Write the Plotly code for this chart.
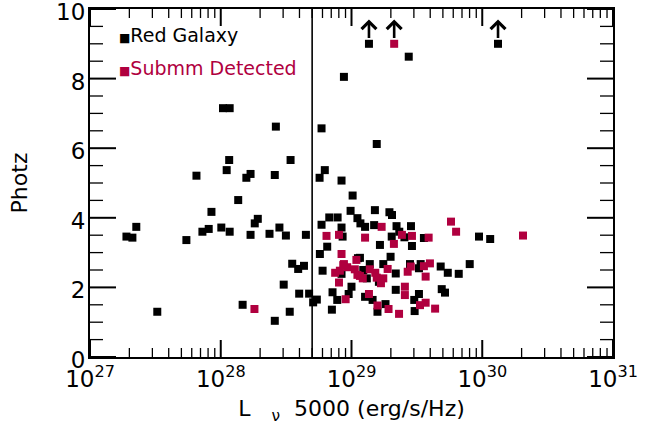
import numpy as np
import plotly.graph_objects as go

# ---- data ----
red_x = [8.75e28, 1.04e28, 1.17e28, 2.64e28, 5.90e28, 1.16e28, 3.42e28, 6.52e27, 1.11e28, 1.57e28,
         1.69e28, 2.59e28, 5.70e28, 6.25e28, 8.39e28, 1.36e28, 8.49e27, 1.02e29, 9.84e28, 1.90e27,
         2.11e27, 2.26e27, 5.46e27, 7.24e27, 8.09e27, 1.01e28, 1.17e28, 1.69e28, 1.82e28, 1.92e28,
         2.36e28, 2.81e28, 3.15e28, 4.48e28, 5.90e28, 6.76e28, 7.83e28, 8.39e28, 8.55e28, 1.11e29,
         6.52e28, 5.73e28, 3.52e28, 3.91e28, 4.33e28, 6.01e28, 3.03e28, 3.98e28, 4.74e28, 5.09e28,
         5.43e28, 7.16e28, 7.78e28, 9.51e28, 1.00e29, 7.08e28, 1.47e28, 3.27e27, 2.59e28, 3.37e28,
         8.39e28, 1.12e29, 1.51e29, 1.95e29, 2.04e29, 1.17e29, 1.27e29, 1.49e29, 2.21e29, 2.85e29,
         2.32e29, 2.03e29, 2.54e29, 3.58e29, 1.65e29, 2.90e29, 1.16e29, 1.99e29, 1.38e29, 1.75e29,
         2.80e29, 3.38e29, 4.81e29, 8.02e29, 1.23e29, 2.18e29, 3.28e29, 5.45e29, 6.61e29, 1.31e29,
         1.62e29, 2.18e29, 4.90e29, 5.19e29, 1.27e29, 1.45e29, 3.28e29, 3.02e29, 1.58e29, 1.82e29,
         3.04e29, 9.44e29, 1.15e30, 2.74e29, 1.56e29, 1.36e29, 1.32e30]
red_z = [8.05, 7.15, 7.15, 6.62, 6.57, 5.66, 5.66, 5.21, 5.37, 5.15,
         5.26, 5.23, 5.15, 5.37, 5.07, 4.51, 4.17, 4.64, 4.20, 3.46,
         3.43, 3.74, 3.36, 3.60, 3.68, 3.72, 3.60, 3.51, 3.84, 3.97,
         3.54, 3.72, 3.49, 3.51, 3.80, 4.01, 4.01, 3.72, 3.46, 3.99,
         3.17, 2.96, 2.68, 2.53, 2.62, 2.48, 2.08, 1.82, 1.82, 1.57,
         1.65, 1.86, 1.64, 1.81, 2.02, 1.36, 1.50, 1.30, 1.04, 1.30,
         2.39, 2.84, 4.22, 4.16, 4.08, 3.84, 3.74, 3.79, 3.76, 3.76,
         3.60, 3.46, 3.44, 3.42, 3.22, 3.19, 2.85, 2.88, 2.67, 2.67,
         2.67, 2.67, 2.60, 2.67, 2.50, 2.40, 2.55, 2.42, 2.39, 2.26,
         2.16, 1.93, 1.95, 1.85, 1.73, 1.64, 1.81, 1.64, 1.30, 1.52,
         1.32, 3.46, 3.39, 8.63, 6.12, 9.00, 9.00]

sub_x = [1.81e28, 6.44e28, 8.02e28, 8.39e28, 8.02e28, 9.02e28, 7.50e28, 8.65e28, 9.27e28, 8.15e28,
         1.09e29, 1.06e29, 1.70e29, 1.27e29, 2.43e29, 2.90e29, 3.89e29, 2.11e29, 5.77e29, 6.31e29,
         2.05e30, 1.38e29, 1.52e29, 1.16e29, 1.22e29, 1.56e29, 1.75e29, 1.68e29, 1.89e29, 2.69e29,
         2.84e29, 3.58e29, 3.98e29, 3.69e29, 1.36e29, 2.56e29, 2.56e29, 1.58e29, 1.92e29, 2.31e29,
         3.34e29, 3.69e29, 4.36e29, 2.12e29, 8.75e28, 1.11e29]
sub_z = [1.38, 3.48, 3.51, 2.96, 2.14, 1.66, 2.42, 2.64, 2.58, 2.48,
         2.79, 2.52, 3.74, 3.43, 3.51, 3.48, 3.43, 3.25, 3.89, 3.60,
         3.49, 2.52, 2.42, 2.33, 2.26, 2.28, 2.26, 2.12, 2.53, 2.45,
         2.60, 2.61, 2.69, 2.31, 1.81, 2.02, 1.78, 1.48, 1.38, 1.24,
         1.49, 1.56, 1.39, 9.00, 2.67, 2.36]

# lower limits (arrows pointing up)
limit_x = [1.36e29, 2.12e29, 1.32e30]
limit_z = [9.0, 9.0, 9.0]
limit_tip = 9.7

cut_x = 5e28

X_RANGE = [27, 31]          # log10 range
Y_RANGE = [0, 10]
x_tickvals = [1e27, 1e28, 1e29, 1e30, 1e31]
x_ticktext = ["10<sup>27</sup>", "10<sup>28</sup>", "10<sup>29</sup>", "10<sup>30</sup>", "10<sup>31</sup>"]
x_minor = [m * 10.0 ** e for e in range(27, 31) for m in range(2, 10)]
y_major = [0, 2, 4, 6, 8, 10]
y_minor = [v / 2 for v in range(1, 20) if v % 4 != 0]

BLACK = "#000000"
CRIMSON = "#B0003F"
FONT = "DejaVu Sans"

W, H = 650, 435
M = dict(l=90, r=37, t=9, b=78)
plot_w = W - M["l"] - M["r"]
plot_h = H - M["t"] - M["b"]
ky = (Y_RANGE[1] - Y_RANGE[0]) / plot_h          # data units per pixel (y)
kx = (X_RANGE[1] - X_RANGE[0]) / plot_w          # decades per pixel (x)

fig = go.Figure()


def add_ticks(segments, width):
    xs, ys = [], []
    for (x0, y0, x1, y1) in segments:
        xs += [x0, x1, None]
        ys += [y0, y1, None]
    fig.add_trace(go.Scatter(x=xs, y=ys, mode="lines", line=dict(color=BLACK, width=width),
                             hoverinfo="skip", showlegend=False, cliponaxis=False))


xlo, xhi = 10.0 ** X_RANGE[0], 10.0 ** X_RANGE[1]
ylo, yhi = Y_RANGE
# frame ticks (inside, on all four sides)
add_ticks([(v, ylo, v, ylo + 17 * ky) for v in x_tickvals] +
          [(v, yhi, v, yhi - 17 * ky) for v in x_tickvals], 2)
add_ticks([(v, ylo, v, ylo + 9 * ky) for v in x_minor] +
          [(v, yhi, v, yhi - 9 * ky) for v in x_minor], 1.3)
add_ticks([(xlo, v, 10 ** (X_RANGE[0] + 26 * kx), v) for v in y_major] +
          [(xhi, v, 10 ** (X_RANGE[1] - 26 * kx), v) for v in y_major], 2)
add_ticks([(xlo, v, 10 ** (X_RANGE[0] + 13 * kx), v) for v in y_minor] +
          [(xhi, v, 10 ** (X_RANGE[1] - 13 * kx), v) for v in y_minor], 1.3)

fig.add_trace(go.Scatter(x=red_x, y=red_z, mode="markers",
                         marker=dict(symbol="square", size=8, color=BLACK, line=dict(width=0)),
                         name="Red Galaxy", showlegend=False))
fig.add_trace(go.Scatter(x=sub_x, y=sub_z, mode="markers",
                         marker=dict(symbol="square", size=8, color=CRIMSON, line=dict(width=0)),
                         name="Submm Detected", showlegend=False))

# vertical cut line
fig.add_shape(type="line", xref="x", yref="paper", x0=cut_x, x1=cut_x, y0=0, y1=1,
              line=dict(color=BLACK, width=1.6))

annotations = []
for xv, zv in zip(limit_x, limit_z):
    lx = float(np.log10(xv))
    annotations.append(dict(x=lx, y=limit_tip, ax=lx, ay=zv + 0.12, xref="x", yref="y",
                            axref="x", ayref="y", showarrow=True, arrowhead=4, arrowsize=1.1,
                            arrowwidth=2.6, arrowcolor=BLACK, text=""))

# legend-like labels
annotations.append(dict(x=0.052, y=0.925, xref="paper", yref="paper", xanchor="left", yanchor="middle",
                        text="<span style='font-size:12px'>■</span>Red Galaxy", showarrow=False,
                        font=dict(family=FONT, size=19, color=BLACK)))
annotations.append(dict(x=0.052, y=0.83, xref="paper", yref="paper", xanchor="left", yanchor="middle",
                        text="<span style='font-size:12px'>■</span>Submm Detected", showarrow=False,
                        font=dict(family=FONT, size=19, color=CRIMSON)))

fig.update_layout(
    width=W, height=H,
    margin=dict(**M, autoexpand=False),
    paper_bgcolor="white", plot_bgcolor="white",
    font=dict(family=FONT, size=22, color=BLACK),
    annotations=annotations,
    showlegend=False,
)

fig.update_xaxes(
    type="log", range=X_RANGE,
    tickmode="array", tickvals=x_tickvals, ticktext=x_ticktext,
    ticks="", showline=True, linewidth=2, linecolor=BLACK, mirror=True,
    showgrid=False, zeroline=False, automargin=False,
    tickfont=dict(family=FONT, size=23),
    ticklabeloverflow="allow",
    title=dict(text="L\u00a0\u00a0\u00a0<sub>ν</sub>\u00a0\u00a05000 (erg/s/Hz)",
               font=dict(family=FONT, size=22), standoff=10),
)
fig.update_yaxes(
    range=Y_RANGE,
    tickmode="array", tickvals=y_major, ticktext=[str(v) for v in y_major],
    ticks="", showline=True, linewidth=2, linecolor=BLACK, mirror=True,
    showgrid=False, zeroline=False, automargin=False,
    tickfont=dict(family=FONT, size=23),
    ticklabeloverflow="allow",
    ticklabelshift=3,
    ticklabelstandoff=-2,
    title=dict(text="Photz", font=dict(family=FONT, size=22), standoff=22),
)

fig.write_html("out.html")
